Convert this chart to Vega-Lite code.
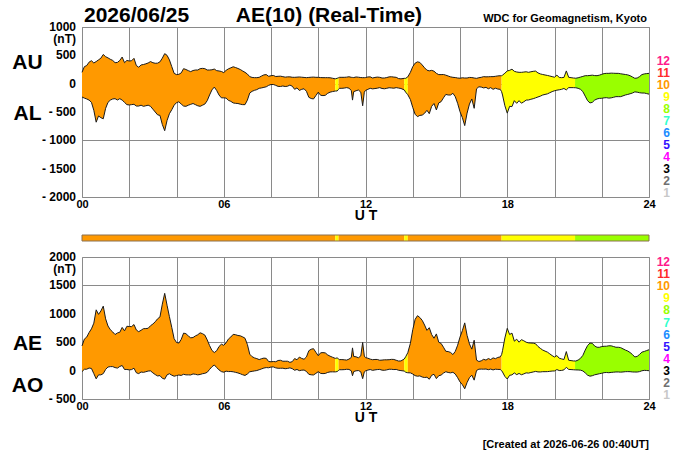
{
  "$schema": "https://vega.github.io/schema/vega-lite/v6.json",
  "padding": {"left": 10, "top": 4, "right": 5, "bottom": 2},
  "background": "white",
  "config": {
    "font": "Liberation Sans",
    "view": {"stroke": "#8a8a8a", "strokeWidth": 1},
    "axis": {
      "labelFont": "Liberation Sans", "labelFontWeight": "bold", "labelColor": "#000000",
      "titleFont": "Liberation Sans", "titleFontWeight": "bold", "titleColor": "#000000",
      "ticks": false, "domain": false, "grid": true,
      "gridColor": "#8a8a8a", "gridOpacity": 1, "gridWidth": 1,
      "labelFlush": false, "labelOverlap": false
    },
    "text": {"font": "Liberation Sans", "fontWeight": "bold", "color": "#000000"}
  },
  "datasets": {
    "ae": [
      {"t":0,"s":1,"n":10,"AU":200,"AL":-235,"AE":435,"AO":-18},
      {"t":0.1,"s":1,"n":10,"AU":300,"AL":-255,"AE":555,"AO":23},
      {"t":0.2,"s":1,"n":10,"AU":320,"AL":-270,"AE":590,"AO":25},
      {"t":0.3,"s":1,"n":10,"AU":380,"AL":-290,"AE":670,"AO":45},
      {"t":0.4,"s":1,"n":10,"AU":405,"AL":-330,"AE":735,"AO":38},
      {"t":0.5,"s":1,"n":10,"AU":365,"AL":-470,"AE":835,"AO":-53},
      {"t":0.6,"s":1,"n":10,"AU":390,"AL":-680,"AE":1070,"AO":-145},
      {"t":0.7,"s":1,"n":10,"AU":420,"AL":-570,"AE":990,"AO":-75},
      {"t":0.8,"s":1,"n":10,"AU":450,"AL":-600,"AE":1050,"AO":-75},
      {"t":0.9,"s":1,"n":10,"AU":515,"AL":-620,"AE":1135,"AO":-53},
      {"t":1.0,"s":1,"n":10,"AU":476,"AL":-435,"AE":911,"AO":21},
      {"t":1.1,"s":1,"n":10,"AU":455,"AL":-330,"AE":785,"AO":63},
      {"t":1.2,"s":1,"n":10,"AU":430,"AL":-290,"AE":720,"AO":70},
      {"t":1.3,"s":1,"n":10,"AU":410,"AL":-270,"AE":680,"AO":70},
      {"t":1.4,"s":1,"n":10,"AU":370,"AL":-265,"AE":635,"AO":53},
      {"t":1.5,"s":1,"n":10,"AU":375,"AL":-288,"AE":663,"AO":44},
      {"t":1.6,"s":1,"n":10,"AU":410,"AL":-265,"AE":675,"AO":73},
      {"t":1.7,"s":1,"n":10,"AU":470,"AL":-290,"AE":760,"AO":90},
      {"t":1.8,"s":1,"n":10,"AU":370,"AL":-330,"AE":700,"AO":20},
      {"t":1.9,"s":1,"n":10,"AU":410,"AL":-370,"AE":780,"AO":20},
      {"t":2.0,"s":1,"n":10,"AU":400,"AL":-376,"AE":776,"AO":12},
      {"t":2.1,"s":1,"n":10,"AU":405,"AL":-370,"AE":775,"AO":18},
      {"t":2.2,"s":1,"n":10,"AU":447,"AL":-364,"AE":811,"AO":42},
      {"t":2.3,"s":1,"n":10,"AU":320,"AL":-395,"AE":715,"AO":-38},
      {"t":2.4,"s":1,"n":10,"AU":290,"AL":-395,"AE":685,"AO":-53},
      {"t":2.5,"s":1,"n":10,"AU":330,"AL":-380,"AE":710,"AO":-25},
      {"t":2.6,"s":1,"n":10,"AU":338,"AL":-400,"AE":738,"AO":-31},
      {"t":2.7,"s":1,"n":10,"AU":350,"AL":-390,"AE":740,"AO":-20},
      {"t":2.8,"s":1,"n":10,"AU":365,"AL":-380,"AE":745,"AO":-8},
      {"t":2.9,"s":1,"n":10,"AU":390,"AL":-400,"AE":790,"AO":-5},
      {"t":3.0,"s":1,"n":10,"AU":370,"AL":-450,"AE":820,"AO":-40},
      {"t":3.1,"s":1,"n":10,"AU":360,"AL":-500,"AE":860,"AO":-70},
      {"t":3.2,"s":1,"n":10,"AU":362,"AL":-550,"AE":912,"AO":-94},
      {"t":3.3,"s":1,"n":10,"AU":385,"AL":-560,"AE":945,"AO":-88},
      {"t":3.4,"s":1,"n":10,"AU":450,"AL":-720,"AE":1170,"AO":-135},
      {"t":3.5,"s":1,"n":10,"AU":530,"AL":-830,"AE":1360,"AO":-150},
      {"t":3.6,"s":1,"n":10,"AU":500,"AL":-650,"AE":1150,"AO":-75},
      {"t":3.7,"s":1,"n":10,"AU":420,"AL":-530,"AE":950,"AO":-55},
      {"t":3.8,"s":1,"n":10,"AU":300,"AL":-460,"AE":760,"AO":-80},
      {"t":3.9,"s":1,"n":10,"AU":182,"AL":-380,"AE":562,"AO":-99},
      {"t":4.0,"s":1,"n":10,"AU":160,"AL":-335,"AE":495,"AO":-88},
      {"t":4.1,"s":1,"n":10,"AU":165,"AL":-320,"AE":485,"AO":-78},
      {"t":4.2,"s":1,"n":10,"AU":190,"AL":-360,"AE":550,"AO":-85},
      {"t":4.3,"s":1,"n":10,"AU":265,"AL":-395,"AE":660,"AO":-65},
      {"t":4.4,"s":1,"n":10,"AU":250,"AL":-400,"AE":650,"AO":-75},
      {"t":4.5,"s":1,"n":10,"AU":230,"AL":-380,"AE":610,"AO":-75},
      {"t":4.6,"s":1,"n":10,"AU":212,"AL":-365,"AE":577,"AO":-77},
      {"t":4.7,"s":1,"n":10,"AU":232,"AL":-350,"AE":582,"AO":-59},
      {"t":4.8,"s":1,"n":10,"AU":241,"AL":-370,"AE":611,"AO":-65},
      {"t":4.9,"s":1,"n":10,"AU":241,"AL":-390,"AE":631,"AO":-75},
      {"t":5.0,"s":1,"n":10,"AU":265,"AL":-400,"AE":665,"AO":-68},
      {"t":5.1,"s":1,"n":10,"AU":270,"AL":-380,"AE":650,"AO":-55},
      {"t":5.2,"s":1,"n":10,"AU":265,"AL":-360,"AE":625,"AO":-48},
      {"t":5.3,"s":1,"n":10,"AU":241,"AL":-300,"AE":541,"AO":-30},
      {"t":5.4,"s":1,"n":10,"AU":241,"AL":-200,"AE":441,"AO":21},
      {"t":5.5,"s":1,"n":10,"AU":245,"AL":-110,"AE":355,"AO":68},
      {"t":5.6,"s":1,"n":10,"AU":258,"AL":-60,"AE":318,"AO":99},
      {"t":5.7,"s":1,"n":10,"AU":230,"AL":-120,"AE":350,"AO":55},
      {"t":5.8,"s":1,"n":10,"AU":224,"AL":-200,"AE":424,"AO":12},
      {"t":5.9,"s":1,"n":10,"AU":215,"AL":-250,"AE":465,"AO":-18},
      {"t":6.0,"s":1,"n":10,"AU":195,"AL":-250,"AE":445,"AO":-28},
      {"t":6.1,"s":1,"n":10,"AU":235,"AL":-255,"AE":490,"AO":-10},
      {"t":6.2,"s":1,"n":10,"AU":262,"AL":-295,"AE":557,"AO":-17},
      {"t":6.3,"s":1,"n":10,"AU":280,"AL":-312,"AE":592,"AO":-16},
      {"t":6.4,"s":1,"n":10,"AU":298,"AL":-340,"AE":638,"AO":-21},
      {"t":6.5,"s":1,"n":10,"AU":285,"AL":-347,"AE":632,"AO":-31},
      {"t":6.6,"s":1,"n":10,"AU":268,"AL":-350,"AE":618,"AO":-41},
      {"t":6.7,"s":1,"n":10,"AU":250,"AL":-362,"AE":612,"AO":-56},
      {"t":6.8,"s":1,"n":10,"AU":224,"AL":-370,"AE":594,"AO":-73},
      {"t":6.9,"s":1,"n":10,"AU":200,"AL":-370,"AE":570,"AO":-85},
      {"t":7.0,"s":1,"n":10,"AU":170,"AL":-290,"AE":460,"AO":-60},
      {"t":7.1,"s":1,"n":10,"AU":124,"AL":-165,"AE":289,"AO":-21},
      {"t":7.2,"s":1,"n":10,"AU":110,"AL":-135,"AE":245,"AO":-13},
      {"t":7.3,"s":1,"n":10,"AU":106,"AL":-118,"AE":224,"AO":-6},
      {"t":7.4,"s":1,"n":10,"AU":106,"AL":-105,"AE":211,"AO":1},
      {"t":7.5,"s":1,"n":10,"AU":112,"AL":-82,"AE":194,"AO":15},
      {"t":7.6,"s":1,"n":10,"AU":135,"AL":-75,"AE":210,"AO":30},
      {"t":7.7,"s":1,"n":10,"AU":155,"AL":-65,"AE":220,"AO":45},
      {"t":7.8,"s":1,"n":10,"AU":160,"AL":-55,"AE":215,"AO":53},
      {"t":7.9,"s":1,"n":10,"AU":130,"AL":-30,"AE":160,"AO":50},
      {"t":8.0,"s":1,"n":10,"AU":140,"AL":-15,"AE":155,"AO":63},
      {"t":8.1,"s":1,"n":10,"AU":145,"AL":-15,"AE":160,"AO":65},
      {"t":8.2,"s":1,"n":10,"AU":126,"AL":-30,"AE":156,"AO":48},
      {"t":8.3,"s":1,"n":10,"AU":130,"AL":-48,"AE":178,"AO":41},
      {"t":8.4,"s":1,"n":10,"AU":132,"AL":-50,"AE":182,"AO":41},
      {"t":8.5,"s":1,"n":10,"AU":124,"AL":-41,"AE":165,"AO":42},
      {"t":8.6,"s":1,"n":10,"AU":115,"AL":-50,"AE":165,"AO":33},
      {"t":8.7,"s":1,"n":10,"AU":120,"AL":-45,"AE":165,"AO":38},
      {"t":8.8,"s":1,"n":10,"AU":120,"AL":-25,"AE":145,"AO":48},
      {"t":8.9,"s":1,"n":10,"AU":113,"AL":-45,"AE":158,"AO":34},
      {"t":9.0,"s":1,"n":10,"AU":112,"AL":-100,"AE":212,"AO":6},
      {"t":9.1,"s":1,"n":10,"AU":115,"AL":-75,"AE":190,"AO":20},
      {"t":9.2,"s":1,"n":10,"AU":118,"AL":-120,"AE":238,"AO":-1},
      {"t":9.3,"s":1,"n":10,"AU":114,"AL":-100,"AE":214,"AO":7},
      {"t":9.4,"s":1,"n":10,"AU":110,"AL":-90,"AE":200,"AO":10},
      {"t":9.5,"s":1,"n":10,"AU":106,"AL":-135,"AE":241,"AO":-15},
      {"t":9.6,"s":1,"n":10,"AU":110,"AL":-240,"AE":350,"AO":-65},
      {"t":9.7,"s":1,"n":10,"AU":114,"AL":-262,"AE":376,"AO":-74},
      {"t":9.8,"s":1,"n":10,"AU":116,"AL":-270,"AE":386,"AO":-77},
      {"t":9.9,"s":1,"n":10,"AU":112,"AL":-210,"AE":322,"AO":-49},
      {"t":10.0,"s":1,"n":10,"AU":112,"AL":-150,"AE":262,"AO":-19},
      {"t":10.1,"s":1,"n":10,"AU":108,"AL":-205,"AE":313,"AO":-49},
      {"t":10.2,"s":1,"n":10,"AU":106,"AL":-211,"AE":317,"AO":-53},
      {"t":10.3,"s":1,"n":10,"AU":106,"AL":-205,"AE":311,"AO":-50},
      {"t":10.4,"s":1,"n":10,"AU":106,"AL":-170,"AE":276,"AO":-32},
      {"t":10.5,"s":1,"n":10,"AU":104,"AL":-150,"AE":254,"AO":-23},
      {"t":10.6,"s":1,"n":10,"AU":96,"AL":-140,"AE":236,"AO":-22},
      {"t":10.72,"s":1,"n":10,"AU":85,"AL":-130,"AE":215,"AO":-23},
      {"t":10.72,"s":2,"n":9,"AU":85,"AL":-130,"AE":215,"AO":-23},
      {"t":10.8,"s":2,"n":9,"AU":95,"AL":-129,"AE":224,"AO":-17},
      {"t":10.86,"s":2,"n":9,"AU":105,"AL":-100,"AE":205,"AO":3},
      {"t":10.86,"s":3,"n":10,"AU":105,"AL":-100,"AE":205,"AO":3},
      {"t":10.9,"s":3,"n":10,"AU":112,"AL":-82,"AE":194,"AO":15},
      {"t":11.0,"s":3,"n":10,"AU":112,"AL":-82,"AE":194,"AO":15},
      {"t":11.1,"s":3,"n":10,"AU":112,"AL":-78,"AE":190,"AO":17},
      {"t":11.2,"s":3,"n":10,"AU":115,"AL":-70,"AE":185,"AO":23},
      {"t":11.3,"s":3,"n":10,"AU":122,"AL":-80,"AE":202,"AO":21},
      {"t":11.4,"s":3,"n":10,"AU":112,"AL":-120,"AE":232,"AO":-4},
      {"t":11.45,"s":3,"n":10,"AU":110,"AL":-290,"AE":400,"AO":-90},
      {"t":11.5,"s":3,"n":10,"AU":108,"AL":-141,"AE":249,"AO":-17},
      {"t":11.6,"s":3,"n":10,"AU":118,"AL":-125,"AE":243,"AO":-4},
      {"t":11.7,"s":3,"n":10,"AU":114,"AL":-112,"AE":226,"AO":1},
      {"t":11.8,"s":3,"n":10,"AU":108,"AL":-150,"AE":258,"AO":-21},
      {"t":11.88,"s":3,"n":10,"AU":106,"AL":-390,"AE":496,"AO":-142},
      {"t":11.95,"s":3,"n":10,"AU":106,"AL":-150,"AE":256,"AO":-22},
      {"t":12.0,"s":3,"n":10,"AU":108,"AL":-120,"AE":228,"AO":-6},
      {"t":12.1,"s":3,"n":10,"AU":118,"AL":-100,"AE":218,"AO":9},
      {"t":12.2,"s":3,"n":10,"AU":120,"AL":-82,"AE":202,"AO":19},
      {"t":12.3,"s":3,"n":10,"AU":100,"AL":-92,"AE":192,"AO":4},
      {"t":12.4,"s":3,"n":10,"AU":110,"AL":-86,"AE":196,"AO":12},
      {"t":12.5,"s":3,"n":10,"AU":116,"AL":-80,"AE":196,"AO":18},
      {"t":12.6,"s":3,"n":10,"AU":112,"AL":-70,"AE":182,"AO":21},
      {"t":12.7,"s":3,"n":10,"AU":100,"AL":-85,"AE":185,"AO":8},
      {"t":12.8,"s":3,"n":10,"AU":100,"AL":-90,"AE":190,"AO":5},
      {"t":12.9,"s":3,"n":10,"AU":108,"AL":-82,"AE":190,"AO":13},
      {"t":13.0,"s":3,"n":10,"AU":120,"AL":-72,"AE":192,"AO":24},
      {"t":13.1,"s":3,"n":10,"AU":122,"AL":-76,"AE":198,"AO":23},
      {"t":13.2,"s":3,"n":10,"AU":116,"AL":-80,"AE":196,"AO":18},
      {"t":13.3,"s":3,"n":10,"AU":112,"AL":-70,"AE":182,"AO":21},
      {"t":13.4,"s":3,"n":10,"AU":90,"AL":-78,"AE":168,"AO":6},
      {"t":13.5,"s":3,"n":10,"AU":85,"AL":-85,"AE":170,"AO":0},
      {"t":13.64,"s":3,"n":10,"AU":94,"AL":-110,"AE":204,"AO":-8},
      {"t":13.64,"s":4,"n":9,"AU":94,"AL":-110,"AE":204,"AO":-8},
      {"t":13.7,"s":4,"n":9,"AU":94,"AL":-150,"AE":244,"AO":-28},
      {"t":13.79,"s":4,"n":9,"AU":120,"AL":-195,"AE":315,"AO":-38},
      {"t":13.79,"s":5,"n":10,"AU":120,"AL":-195,"AE":315,"AO":-38},
      {"t":13.9,"s":5,"n":10,"AU":200,"AL":-280,"AE":480,"AO":-40},
      {"t":14.0,"s":5,"n":10,"AU":300,"AL":-420,"AE":720,"AO":-60},
      {"t":14.1,"s":5,"n":10,"AU":362,"AL":-540,"AE":902,"AO":-89},
      {"t":14.2,"s":5,"n":10,"AU":385,"AL":-582,"AE":967,"AO":-99},
      {"t":14.3,"s":5,"n":10,"AU":375,"AL":-560,"AE":935,"AO":-93},
      {"t":14.4,"s":5,"n":10,"AU":330,"AL":-555,"AE":885,"AO":-113},
      {"t":14.5,"s":5,"n":10,"AU":280,"AL":-523,"AE":803,"AO":-122},
      {"t":14.6,"s":5,"n":10,"AU":238,"AL":-470,"AE":708,"AO":-116},
      {"t":14.7,"s":5,"n":10,"AU":226,"AL":-530,"AE":756,"AO":-152},
      {"t":14.8,"s":5,"n":10,"AU":235,"AL":-400,"AE":635,"AO":-83},
      {"t":14.9,"s":5,"n":10,"AU":220,"AL":-350,"AE":570,"AO":-65},
      {"t":15.0,"s":5,"n":10,"AU":182,"AL":-464,"AE":646,"AO":-141},
      {"t":15.1,"s":5,"n":10,"AU":160,"AL":-340,"AE":500,"AO":-90},
      {"t":15.2,"s":5,"n":10,"AU":160,"AL":-318,"AE":478,"AO":-79},
      {"t":15.3,"s":5,"n":10,"AU":162,"AL":-250,"AE":412,"AO":-44},
      {"t":15.4,"s":5,"n":10,"AU":150,"AL":-190,"AE":340,"AO":-20},
      {"t":15.5,"s":5,"n":10,"AU":135,"AL":-200,"AE":335,"AO":-33},
      {"t":15.6,"s":5,"n":10,"AU":120,"AL":-200,"AE":320,"AO":-40},
      {"t":15.7,"s":5,"n":10,"AU":112,"AL":-170,"AE":282,"AO":-29},
      {"t":15.8,"s":5,"n":10,"AU":108,"AL":-230,"AE":338,"AO":-61},
      {"t":15.9,"s":5,"n":10,"AU":100,"AL":-347,"AE":447,"AO":-124},
      {"t":16.0,"s":5,"n":10,"AU":96,"AL":-494,"AE":590,"AO":-199},
      {"t":16.1,"s":5,"n":10,"AU":104,"AL":-600,"AE":704,"AO":-248},
      {"t":16.2,"s":5,"n":10,"AU":100,"AL":-740,"AE":840,"AO":-320},
      {"t":16.3,"s":5,"n":10,"AU":100,"AL":-520,"AE":620,"AO":-210},
      {"t":16.4,"s":5,"n":10,"AU":110,"AL":-360,"AE":470,"AO":-125},
      {"t":16.5,"s":5,"n":10,"AU":108,"AL":-270,"AE":378,"AO":-81},
      {"t":16.6,"s":5,"n":10,"AU":100,"AL":-435,"AE":535,"AO":-168},
      {"t":16.7,"s":5,"n":10,"AU":94,"AL":-90,"AE":184,"AO":2},
      {"t":16.8,"s":5,"n":10,"AU":105,"AL":-55,"AE":160,"AO":25},
      {"t":16.9,"s":5,"n":10,"AU":112,"AL":-60,"AE":172,"AO":26},
      {"t":17.0,"s":5,"n":10,"AU":124,"AL":-75,"AE":199,"AO":25},
      {"t":17.1,"s":5,"n":10,"AU":120,"AL":-65,"AE":185,"AO":28},
      {"t":17.2,"s":5,"n":10,"AU":122,"AL":-90,"AE":212,"AO":16},
      {"t":17.3,"s":5,"n":10,"AU":124,"AL":-70,"AE":194,"AO":27},
      {"t":17.4,"s":5,"n":10,"AU":124,"AL":-100,"AE":224,"AO":12},
      {"t":17.5,"s":5,"n":10,"AU":130,"AL":-80,"AE":210,"AO":25},
      {"t":17.6,"s":5,"n":10,"AU":137,"AL":-95,"AE":232,"AO":21},
      {"t":17.7,"s":5,"n":10,"AU":140,"AL":-100,"AE":240,"AO":20},
      {"t":17.76,"s":5,"n":10,"AU":140,"AL":-140,"AE":280,"AO":0},
      {"t":17.76,"s":6,"n":9,"AU":140,"AL":-140,"AE":280,"AO":0},
      {"t":17.8,"s":6,"n":9,"AU":150,"AL":-200,"AE":350,"AO":-25},
      {"t":17.9,"s":6,"n":9,"AU":185,"AL":-390,"AE":575,"AO":-103},
      {"t":18.0,"s":6,"n":9,"AU":224,"AL":-520,"AE":744,"AO":-148},
      {"t":18.1,"s":6,"n":9,"AU":235,"AL":-400,"AE":635,"AO":-83},
      {"t":18.2,"s":6,"n":9,"AU":255,"AL":-405,"AE":660,"AO":-75},
      {"t":18.3,"s":6,"n":9,"AU":218,"AL":-300,"AE":518,"AO":-41},
      {"t":18.4,"s":6,"n":9,"AU":206,"AL":-347,"AE":553,"AO":-71},
      {"t":18.5,"s":6,"n":9,"AU":200,"AL":-300,"AE":500,"AO":-50},
      {"t":18.6,"s":6,"n":9,"AU":200,"AL":-345,"AE":545,"AO":-73},
      {"t":18.7,"s":6,"n":9,"AU":205,"AL":-320,"AE":525,"AO":-58},
      {"t":18.8,"s":6,"n":9,"AU":210,"AL":-290,"AE":500,"AO":-40},
      {"t":18.9,"s":6,"n":9,"AU":200,"AL":-288,"AE":488,"AO":-44},
      {"t":19.0,"s":6,"n":9,"AU":210,"AL":-275,"AE":485,"AO":-33},
      {"t":19.1,"s":6,"n":9,"AU":218,"AL":-265,"AE":483,"AO":-24},
      {"t":19.2,"s":6,"n":9,"AU":222,"AL":-250,"AE":472,"AO":-14},
      {"t":19.3,"s":6,"n":9,"AU":190,"AL":-235,"AE":425,"AO":-23},
      {"t":19.4,"s":6,"n":9,"AU":172,"AL":-220,"AE":392,"AO":-24},
      {"t":19.5,"s":6,"n":9,"AU":162,"AL":-200,"AE":362,"AO":-19},
      {"t":19.6,"s":6,"n":9,"AU":153,"AL":-190,"AE":343,"AO":-19},
      {"t":19.7,"s":6,"n":9,"AU":145,"AL":-180,"AE":325,"AO":-18},
      {"t":19.8,"s":6,"n":9,"AU":135,"AL":-160,"AE":295,"AO":-13},
      {"t":19.9,"s":6,"n":9,"AU":124,"AL":-140,"AE":264,"AO":-8},
      {"t":20.0,"s":6,"n":9,"AU":114,"AL":-125,"AE":239,"AO":-6},
      {"t":20.1,"s":6,"n":9,"AU":150,"AL":-115,"AE":265,"AO":18},
      {"t":20.2,"s":6,"n":9,"AU":110,"AL":-108,"AE":218,"AO":1},
      {"t":20.3,"s":6,"n":9,"AU":106,"AL":-100,"AE":206,"AO":3},
      {"t":20.4,"s":6,"n":9,"AU":110,"AL":-85,"AE":195,"AO":13},
      {"t":20.5,"s":6,"n":9,"AU":225,"AL":-110,"AE":335,"AO":58},
      {"t":20.6,"s":6,"n":9,"AU":112,"AL":-70,"AE":182,"AO":21},
      {"t":20.7,"s":6,"n":9,"AU":106,"AL":-70,"AE":176,"AO":18},
      {"t":20.8,"s":6,"n":9,"AU":100,"AL":-70,"AE":170,"AO":15},
      {"t":20.87,"s":6,"n":9,"AU":98,"AL":-72,"AE":170,"AO":13},
      {"t":20.87,"s":7,"n":8,"AU":98,"AL":-72,"AE":170,"AO":13},
      {"t":20.9,"s":7,"n":8,"AU":96,"AL":-72,"AE":168,"AO":12},
      {"t":21.0,"s":7,"n":8,"AU":104,"AL":-82,"AE":186,"AO":11},
      {"t":21.1,"s":7,"n":8,"AU":116,"AL":-100,"AE":216,"AO":8},
      {"t":21.2,"s":7,"n":8,"AU":128,"AL":-140,"AE":268,"AO":-6},
      {"t":21.3,"s":7,"n":8,"AU":141,"AL":-220,"AE":361,"AO":-40},
      {"t":21.4,"s":7,"n":8,"AU":141,"AL":-300,"AE":441,"AO":-80},
      {"t":21.5,"s":7,"n":8,"AU":145,"AL":-340,"AE":485,"AO":-98},
      {"t":21.6,"s":7,"n":8,"AU":150,"AL":-330,"AE":480,"AO":-90},
      {"t":21.7,"s":7,"n":8,"AU":143,"AL":-290,"AE":433,"AO":-74},
      {"t":21.8,"s":7,"n":8,"AU":141,"AL":-270,"AE":411,"AO":-65},
      {"t":21.9,"s":7,"n":8,"AU":150,"AL":-260,"AE":410,"AO":-55},
      {"t":22.0,"s":7,"n":8,"AU":165,"AL":-258,"AE":423,"AO":-47},
      {"t":22.1,"s":7,"n":8,"AU":178,"AL":-250,"AE":428,"AO":-36},
      {"t":22.2,"s":7,"n":8,"AU":182,"AL":-247,"AE":429,"AO":-33},
      {"t":22.3,"s":7,"n":8,"AU":182,"AL":-255,"AE":437,"AO":-37},
      {"t":22.4,"s":7,"n":8,"AU":186,"AL":-250,"AE":436,"AO":-32},
      {"t":22.5,"s":7,"n":8,"AU":184,"AL":-240,"AE":424,"AO":-28},
      {"t":22.6,"s":7,"n":8,"AU":182,"AL":-229,"AE":411,"AO":-24},
      {"t":22.7,"s":7,"n":8,"AU":182,"AL":-229,"AE":411,"AO":-24},
      {"t":22.8,"s":7,"n":8,"AU":175,"AL":-229,"AE":404,"AO":-27},
      {"t":22.9,"s":7,"n":8,"AU":168,"AL":-215,"AE":383,"AO":-24},
      {"t":23.0,"s":7,"n":8,"AU":162,"AL":-200,"AE":362,"AO":-19},
      {"t":23.1,"s":7,"n":8,"AU":155,"AL":-190,"AE":345,"AO":-18},
      {"t":23.2,"s":7,"n":8,"AU":140,"AL":-178,"AE":318,"AO":-19},
      {"t":23.3,"s":7,"n":8,"AU":118,"AL":-165,"AE":283,"AO":-24},
      {"t":23.4,"s":7,"n":8,"AU":95,"AL":-145,"AE":240,"AO":-25},
      {"t":23.5,"s":7,"n":8,"AU":100,"AL":-150,"AE":250,"AO":-25},
      {"t":23.6,"s":7,"n":8,"AU":125,"AL":-160,"AE":285,"AO":-18},
      {"t":23.7,"s":7,"n":8,"AU":160,"AL":-165,"AE":325,"AO":-3},
      {"t":23.8,"s":7,"n":8,"AU":172,"AL":-165,"AE":337,"AO":4},
      {"t":23.9,"s":7,"n":8,"AU":178,"AL":-175,"AE":353,"AO":2},
      {"t":24.0,"s":7,"n":8,"AU":182,"AL":-185,"AE":367,"AO":-2}
    ],
    "st": [
      {"n":12},{"n":11},{"n":10},{"n":9},{"n":8},{"n":7},
      {"n":6},{"n":5},{"n":4},{"n":3},{"n":2},{"n":1}
    ],
    "seg": [
      {"a":0,"b":10.72,"n":10},
      {"a":10.72,"b":10.86,"n":9},
      {"a":10.86,"b":13.64,"n":10},
      {"a":13.64,"b":13.79,"n":9},
      {"a":13.79,"b":17.76,"n":10},
      {"a":17.76,"b":20.87,"n":9},
      {"a":20.87,"b":24,"n":8}
    ],
    "ytop": [
      {"v":1000,"lab":"1000"},{"v":500,"lab":"500"},{"v":0,"lab":"0"},
      {"v":-500,"lab":"- 500"},{"v":-1000,"lab":"- 1000"},{"v":-1500,"lab":"- 1500"},{"v":-2000,"lab":"- 2000"}
    ],
    "ybot": [
      {"v":2000,"lab":"2000"},{"v":1500,"lab":"1500"},{"v":1000,"lab":"1000"},
      {"v":500,"lab":"500"},{"v":0,"lab":"0"},{"v":-500,"lab":"- 500"}
    ]
  },
  "vconcat": [
    {
      "width": 567,
      "height": 170,
      "layer": [
        {
          "layer": [
            {
              "data": {"name": "ae"},
              "mark": {"type": "area", "fillOpacity": 1, "strokeWidth": 0},
              "encoding": {
                "x": {
                  "field": "t", "type": "quantitative",
                  "scale": {"domain": [0, 24], "nice": false, "zero": false},
                  "axis": {
                    "values": [0,1,2,3,4,5,6,7,8,9,10,11,12,13,14,15,16,17,18,19,20,21,22,23,24],
                    "labelExpr": "datum.value % 6 == 0 ? (datum.value < 10 ? '0' + datum.value : '' + datum.value) : ''",
                    "labelFontSize": 11, "labelPadding": 1, "labelOverlap": false, "labelFlush": false,
                    "title": "U T", "titleFontSize": 14, "titlePadding": -1
                  }
                },
                "y": {
                  "field": "AU", "type": "quantitative", "stack": null,
                  "scale": {"domain": [-2000, 1000], "nice": false, "zero": false},
                  "axis": {
                    "values": [1000, 500, 0, -500, -1000, -1500, -2000],
                    "labels": false,
                    "title": ["AU", "AL"], "titleFontSize": 21, "titleLineHeight": 51,
                    "titleAngle": 0, "titleAlign": "center", "titleBaseline": "middle",
                    "titleX": -55, "titleY": 35
                  }
                },
                "y2": {"field": "AL"},
                "color": {
                  "field": "n", "type": "ordinal", "legend": null,
                  "scale": {
                    "domain": [1,2,3,4,5,6,7,8,9,10,11,12],
                    "range": ["#c8c8c8","#707070","#000000","#ff00ff","#3311ff","#1a8cff","#33ffcc","#99ff00","#ffff00","#ff9900","#ff2a2a","#ff1a8c"]
                  }
                },
                "detail": {"field": "s", "type": "nominal"}
              }
            },
            {
              "data": {"name": "ae"},
              "mark": {"type": "line", "color": "#1a1a1a", "strokeWidth": 1},
              "encoding": {
                "x": {"field": "t", "type": "quantitative"},
                "y": {"field": "AU", "type": "quantitative"}
              }
            },
            {
              "data": {"name": "ae"},
              "mark": {"type": "line", "color": "#1a1a1a", "strokeWidth": 1},
              "encoding": {
                "x": {"field": "t", "type": "quantitative"},
                "y": {"field": "AL", "type": "quantitative"}
              }
            }
          ]
        },
        {
          "data": {"name": "ytop"},
          "mark": {"type": "text", "fontSize": 12, "align": "right", "baseline": "middle", "dx": -6},
          "encoding": {
            "x": {"datum": 0},
            "y": {"field": "v", "type": "quantitative", "scale": {"domain": [-2000, 1000], "nice": false, "zero": false}, "axis": null},
            "text": {"field": "lab", "type": "nominal"}
          }
        },
        {
          "data": {"values": [{}]},
          "mark": {"type": "text", "text": "(nT)", "fontSize": 12, "align": "right", "baseline": "middle", "dx": -6, "dy": 12},
          "encoding": {
            "x": {"datum": 0},
            "y": {"datum": 1000, "type": "quantitative", "scale": {"domain": [-2000, 1000], "nice": false, "zero": false}, "axis": null}
          }
        },
        {
          "data": {"values": [{}]},
          "mark": {"type": "text", "text": "2026/06/25\u00a0\u00a0\u00a0\u00a0\u00a0\u00a0\u00a0\u00a0AE(10) (Real-Time)", "fontSize": 21, "align": "left", "baseline": "alphabetic", "dx": 2, "dy": -5},
          "encoding": {
            "x": {"datum": 0},
            "y": {"datum": 1000, "type": "quantitative", "scale": {"domain": [-2000, 1000], "nice": false, "zero": false}, "axis": null}
          }
        },
        {
          "data": {"values": [{}]},
          "mark": {"type": "text", "text": "WDC for Geomagnetism, Kyoto", "fontSize": 11, "align": "right", "baseline": "alphabetic", "dx": -2, "dy": -5},
          "encoding": {
            "x": {"datum": 24},
            "y": {"datum": 1000, "type": "quantitative", "scale": {"domain": [-2000, 1000], "nice": false, "zero": false}, "axis": null}
          }
        },
        {
          "data": {"name": "st"},
          "mark": {"type": "text", "fontSize": 12, "align": "right", "baseline": "middle", "dx": 21},
          "encoding": {
            "x": {"datum": 24},
            "y": {"field": "n", "type": "quantitative", "scale": {"domain": [0.67, 14.83], "nice": false, "zero": false}, "axis": null},
            "text": {"field": "n", "type": "quantitative"},
            "color": {
              "field": "n", "type": "ordinal", "legend": null,
              "scale": {
                "domain": [1,2,3,4,5,6,7,8,9,10,11,12],
                "range": ["#c8c8c8","#707070","#000000","#ff00ff","#3311ff","#1a8cff","#33ffcc","#99ff00","#ffff00","#ff9900","#ff2a2a","#ff1a8c"]
              }
            }
          }
        }
      ],
      "resolve": {"scale": {"y": "independent"}}
    },
    {
      "width": 567,
      "height": 10,
      "view": {"stroke": null},
      "layer": [
        {
          "data": {"name": "seg"},
          "mark": {"type": "rect"},
          "encoding": {
            "x": {"field": "a", "type": "quantitative", "scale": {"domain": [0, 24], "nice": false, "zero": false}, "axis": null},
            "x2": {"field": "b"},
            "y": {"datum": 0, "type": "quantitative", "scale": {"domain": [0, 10], "nice": false}, "axis": null},
            "y2": {"datum": 6},
            "color": {
              "field": "n", "type": "ordinal", "legend": null,
              "scale": {
                "domain": [1,2,3,4,5,6,7,8,9,10,11,12],
                "range": ["#c8c8c8","#707070","#000000","#ff00ff","#3311ff","#1a8cff","#33ffcc","#99ff00","#ffff00","#ff9900","#ff2a2a","#ff1a8c"]
              }
            }
          }
        },
        {
          "data": {"values": [{}]},
          "mark": {"type": "rect", "fillOpacity": 0, "stroke": "#8a7050", "strokeWidth": 1},
          "encoding": {"x": {"datum": 0}, "x2": {"datum": 24}, "y": {"datum": 0}, "y2": {"datum": 6}}
        }
      ]
    },
    {
      "width": 567,
      "height": 142,
      "title": {"text": "[Created at 2026-06-26 00:40UT]", "orient": "bottom", "anchor": "end", "frame": "group", "font": "Liberation Sans", "fontSize": 11, "fontWeight": "bold", "color": "#000000", "offset": 15},
      "layer": [
        {
          "layer": [
            {
              "data": {"name": "ae"},
              "mark": {"type": "area", "fillOpacity": 1, "strokeWidth": 0},
              "encoding": {
                "x": {
                  "field": "t", "type": "quantitative",
                  "scale": {"domain": [0, 24], "nice": false, "zero": false},
                  "axis": {
                    "values": [0,1,2,3,4,5,6,7,8,9,10,11,12,13,14,15,16,17,18,19,20,21,22,23,24],
                    "labelExpr": "datum.value % 6 == 0 ? (datum.value < 10 ? '0' + datum.value : '' + datum.value) : ''",
                    "labelFontSize": 11, "labelPadding": 1, "labelOverlap": false, "labelFlush": false,
                    "title": "U T", "titleFontSize": 14, "titlePadding": -1
                  }
                },
                "y": {
                  "field": "AE", "type": "quantitative", "stack": null,
                  "scale": {"domain": [-500, 2000], "nice": false, "zero": false},
                  "axis": {
                    "values": [2000, 1500, 1000, 500, 0, -500],
                    "labels": false,
                    "title": ["AE", "AO"], "titleFontSize": 21, "titleLineHeight": 42,
                    "titleAngle": 0, "titleAlign": "center", "titleBaseline": "middle",
                    "titleX": -55, "titleY": 86
                  }
                },
                "y2": {"field": "AO"},
                "color": {
                  "field": "n", "type": "ordinal", "legend": null,
                  "scale": {
                    "domain": [1,2,3,4,5,6,7,8,9,10,11,12],
                    "range": ["#c8c8c8","#707070","#000000","#ff00ff","#3311ff","#1a8cff","#33ffcc","#99ff00","#ffff00","#ff9900","#ff2a2a","#ff1a8c"]
                  }
                },
                "detail": {"field": "s", "type": "nominal"}
              }
            },
            {
              "data": {"name": "ae"},
              "mark": {"type": "line", "color": "#1a1a1a", "strokeWidth": 1},
              "encoding": {
                "x": {"field": "t", "type": "quantitative"},
                "y": {"field": "AE", "type": "quantitative"}
              }
            },
            {
              "data": {"name": "ae"},
              "mark": {"type": "line", "color": "#1a1a1a", "strokeWidth": 1},
              "encoding": {
                "x": {"field": "t", "type": "quantitative"},
                "y": {"field": "AO", "type": "quantitative"}
              }
            }
          ]
        },
        {
          "data": {"name": "ybot"},
          "mark": {"type": "text", "fontSize": 12, "align": "right", "baseline": "middle", "dx": -6},
          "encoding": {
            "x": {"datum": 0},
            "y": {"field": "v", "type": "quantitative", "scale": {"domain": [-500, 2000], "nice": false, "zero": false}, "axis": null},
            "text": {"field": "lab", "type": "nominal"}
          }
        },
        {
          "data": {"values": [{}]},
          "mark": {"type": "text", "text": "(nT)", "fontSize": 12, "align": "right", "baseline": "middle", "dx": -6, "dy": 12},
          "encoding": {
            "x": {"datum": 0},
            "y": {"datum": 2000, "type": "quantitative", "scale": {"domain": [-500, 2000], "nice": false, "zero": false}, "axis": null}
          }
        },
        {
          "data": {"name": "st"},
          "mark": {"type": "text", "fontSize": 12, "align": "right", "baseline": "middle", "dx": 21},
          "encoding": {
            "x": {"datum": 24},
            "y": {"field": "n", "type": "quantitative", "scale": {"domain": [0.67, 12.42], "nice": false, "zero": false}, "axis": null},
            "text": {"field": "n", "type": "quantitative"},
            "color": {
              "field": "n", "type": "ordinal", "legend": null,
              "scale": {
                "domain": [1,2,3,4,5,6,7,8,9,10,11,12],
                "range": ["#c8c8c8","#707070","#000000","#ff00ff","#3311ff","#1a8cff","#33ffcc","#99ff00","#ffff00","#ff9900","#ff2a2a","#ff1a8c"]
              }
            }
          }
        }
      ],
      "resolve": {"scale": {"y": "independent"}}
    }
  ],
  "spacing": 8
}
